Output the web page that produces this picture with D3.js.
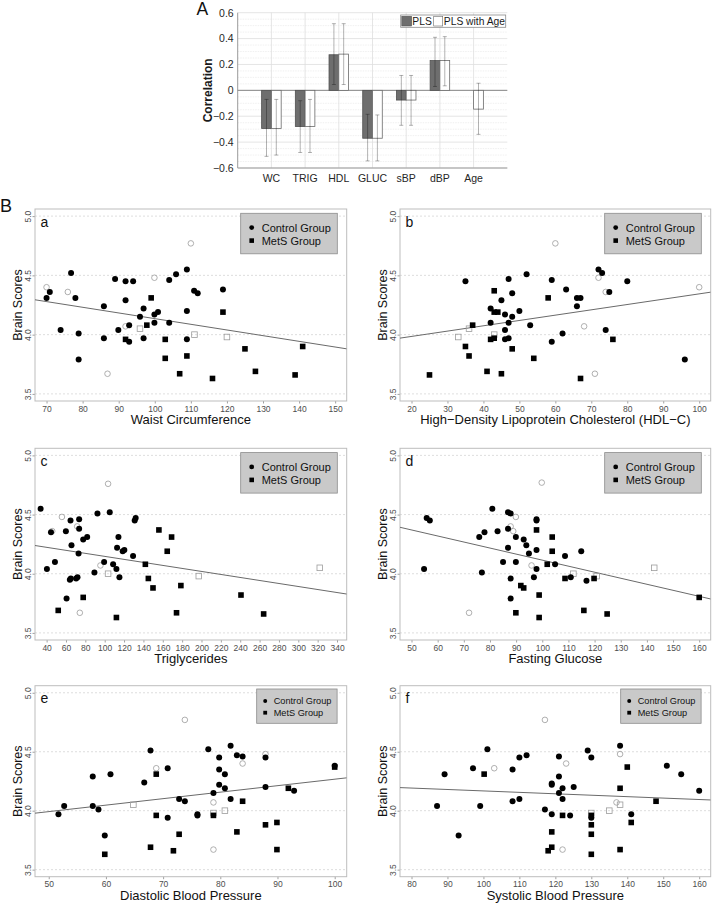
<!DOCTYPE html>
<html><head><meta charset="utf-8">
<script src="https://cdn.jsdelivr.net/npm/d3@7"></script>
<style>body{margin:0;background:#fff} svg{display:block;font-family:"Liberation Sans",Arial,Helvetica,sans-serif}</style>
</head><body><svg id="c" width="713" height="903"></svg>
<script>
// ---------- Part A data ----------
const categories = ["WC","TRIG","HDL","GLUC","sBP","dBP","Age"];
const plsValues = [-0.295,-0.28,0.275,-0.37,-0.075,0.23,null];
const plsLow    = [-0.51,-0.48,0.045,-0.545,-0.27,0.03,null];
const plsHigh   = [-0.07,-0.08,0.515,-0.185,0.115,0.41,null];
const ageValues = [-0.295,-0.28,0.28,-0.37,-0.075,0.23,-0.145];
const ageLow    = [-0.50,-0.48,0.045,-0.545,-0.27,0.035,-0.34];
const ageHigh   = [-0.07,-0.07,0.515,-0.19,0.115,0.415,0.055];
const corrTicks = [-0.6,-0.4,-0.2,0,0.2,0.4,0.6];
const legendA = ["PLS","PLS with Age"];

// ---------- Part B data ----------
const panelLabels = ["a","b","c","d","e","f"];
const xTitles = ["Waist Circumference","High\u2212Density Lipoprotein Cholesterol (HDL\u2212C)","Triglycerides","Fasting Glucose","Diastolic Blood Pressure","Systolic Blood Pressure"];
const xDomains = [[66.8,153.2],[16.8,103.2],[28,350],[45.6,164.4],[47.6,102.1],[76.8,163.2]];
const xTickSets = [d3.range(70,151,10), d3.range(20,101,10), d3.range(40,341,20), d3.range(50,161,10), d3.range(50,101,10), d3.range(80,161,10)];
const yDomain = [3.44,5.06];
const yTicks = [3.5,4.0,4.5,5.0];
const fitIntercepts = [4.614,3.895,4.274,4.625,3.717,4.289];
const fitSlopes = [-0.00479,0.00449,-0.001273,-0.0051,0.0055,-0.001215];
const groupNames = ["Control Group","MetS Group"];

const aControl = [[70,4.31],[70.9,4.36],[76.8,4.52],[78,4.31],[73.9,4.04],[78.9,4.01],[78.9,3.79],[85.9,4.24],[85.9,3.97],[89,4.47],[89.9,4.04],[91.9,4.45],[94,4.45],[91.9,4.29],[92.9,4.08],[92.9,3.94],[96.9,4.22],[95.9,4.15],[96.9,3.97],[99.9,4.17],[100.9,4.19],[99.9,4.10],[104,4.10],[104,4.46],[105.9,4.51],[108.9,4.55],[108.9,4.20],[108.9,3.96],[110.9,4.37],[111.9,4.35],[118.9,4.38]];
const aMetS = [[99,4.31],[97.8,4.08],[91.9,3.96],[102.9,3.96],[102.9,3.80],[108.9,3.82],[106.9,3.67],[116,3.63],[118.9,4.19],[125,3.88],[127.9,3.69],[138.9,3.66],[141,3.90]];
const aOpenControl = [[70,4.40],[75.9,4.36],[99.9,4.48],[110,4.77],[91.9,4.07],[86.9,3.67]];
const aOpenMetS = [[95.9,4.05],[111,4.00],[120,3.98]];

const bControl = [[35,4.45],[42,4.22],[42,4.10],[45,4.29],[46,4.17],[46,4.04],[46,3.96],[47,4.47],[47,4.10],[47,3.97],[48,4.35],[48,4.15],[50,4.20],[52,4.51],[53,4.08],[59,4.46],[59,3.94],[62,4.01],[63,4.38],[66,4.24],[66,4.31],[67,4.31],[72,4.55],[73,4.52],[75,4.36],[74,4.04],[80,4.45],[96,3.79]];
const bMetS = [[25,3.66],[35,3.90],[36,3.82],[37,4.08],[41,3.69],[43,4.37],[43,4.19],[44,4.19],[42,3.96],[43,3.97],[45,3.67],[48,3.88],[54,3.80],[58,4.31],[67,3.63],[76,3.96]];
const bOpenControl = [[60,4.77],[72,4.48],[74,4.36],[68,4.07],[71,3.67],[100,4.40]];
const bOpenMetS = [[33,3.98],[36,4.05],[43,4.00]];

const cControl = [[33.8,4.55],[44.5,4.35],[40.3,4.04],[48.6,4.10],[59.9,4.36],[60.6,3.79],[64.7,4.45],[65.7,4.24],[64,3.95],[65,3.96],[70.5,3.96],[71.9,3.97],[73.6,4.46],[73.6,4.38],[73,4.17],[77.8,4.29],[81.9,4.31],[89.4,4.01],[92.5,4.51],[99.4,4.10],[105.2,4.52],[108.7,4.08],[112.1,4.04],[112.8,4.22],[114.2,4.31],[115.2,3.97],[118.6,4.19],[120.3,4.20],[129.3,4.15],[131,4.45],[132,4.47]];
const cMetS = [[52,3.69],[77.8,3.80],[112.1,3.63],[142,4.08],[145.1,3.96],[149.9,3.88],[156,4.37],[164.6,4.19],[169.1,4.31],[174.2,3.67],[178.7,3.90],[240.8,3.82],[264.2,3.66]];
const cOpenControl = [[103.5,4.76],[55.8,4.48],[71.6,4.40],[45.8,4.36],[95.6,4.07],[74.3,3.67]];
const cOpenMetS = [[103.5,4.00],[197.2,3.98],[322.2,4.05]];

const dControl = [[54.8,4.04],[55.8,4.47],[57,4.45],[75.9,4.31],[77.9,4.35],[76.9,4.01],[80.9,4.55],[82.9,4.36],[85,4.10],[86.9,4.52],[87.9,4.51],[86.9,4.38],[86.9,4.22],[87.9,3.96],[87.9,3.79],[89.9,4.31],[89.9,4.10],[92.9,4.29],[93.9,4.24],[94.9,4.17],[96.8,3.97],[97.8,4.46],[97.8,4.45],[97.8,4.20],[97.8,4.04],[104.9,4.08],[108.7,4.15],[110.9,3.97],[114.9,4.19],[116.9,3.94]];
const dMetS = [[89.9,3.67],[91.8,3.90],[92.9,3.88],[98.8,3.82],[98.8,3.63],[97.8,4.37],[103.8,4.31],[103.8,4.19],[101.9,4.08],[108.7,3.96],[115.9,3.69],[119.8,3.96],[124.8,3.66],[160,3.80]];
const dOpenControl = [[99.8,4.77],[89.9,4.48],[87.9,4.40],[88.9,4.36],[95.9,4.07],[72,3.67]];
const dOpenMetS = [[111.9,4.00],[120.8,3.98],[142.8,4.05]];

const eControl = [[51.7,3.97],[52.7,4.04],[57.7,4.29],[57.7,4.04],[58.7,4.01],[59.8,3.79],[60.8,4.31],[66.7,4.24],[67.8,4.51],[70.8,4.36],[70.8,3.94],[72.8,4.10],[73.8,4.08],[76,3.97],[76,3.96],[77.9,4.52],[78.8,4.15],[79.8,4.45],[79.8,4.35],[79.8,4.22],[80.8,4.31],[80.8,4.19],[81.8,4.55],[81.8,4.10],[82.9,4.47],[83.9,4.46],[87.9,4.45],[87.9,4.20],[92.9,4.17],[100,4.38]];
const eMetS = [[59.8,3.63],[67.8,3.69],[68.8,4.31],[68.8,3.96],[71.8,3.66],[72.8,3.80],[78.8,3.96],[82.9,3.82],[83.9,4.08],[87.9,3.88],[89.9,3.90],[89.9,3.67],[91.9,4.19],[100,4.37]];
const eOpenControl = [[73.8,4.77],[68.8,4.36],[83.9,4.40],[87.9,4.48],[78.8,4.07],[78.8,3.67]];
const eOpenMetS = [[64.8,4.05],[78.8,3.98],[80.8,4.00]];

const fControl = [[87.1,4.04],[89.2,4.31],[93.1,3.79],[97.1,4.36],[99.1,4.04],[101.1,4.52],[108.1,4.35],[108.1,4.08],[110,4.45],[110,4.10],[112,4.47],[117.1,4.01],[119,4.23],[119,4.22],[119,3.97],[121,4.46],[121,4.29],[121,4.15],[122,4.19],[122,4.10],[124.1,3.96],[125.1,4.20],[129,4.51],[130,4.45],[130,3.94],[138,4.55],[141.1,3.97],[151,4.38],[155,4.31],[160,4.17]];
const fMetS = [[100.2,4.31],[118,3.66],[119,3.69],[119,3.82],[122,3.96],[130,3.96],[130,3.88],[130,3.80],[130,3.63],[138,4.19],[138,3.67],[140,4.37],[141.1,3.90],[148,4.08]];
const fOpenControl = [[117.1,4.77],[103,4.36],[123,4.40],[138,4.48],[137,4.07],[122,3.67]];
const fOpenMetS = [[130,3.98],[135,4.00],[138,4.05]];

const controls = [aControl,bControl,cControl,dControl,eControl,fControl];
const metss = [aMetS,bMetS,cMetS,dMetS,eMetS,fMetS];
const openControls = [aOpenControl,bOpenControl,cOpenControl,dOpenControl,eOpenControl,fOpenControl];
const openMetss = [aOpenMetS,bOpenMetS,cOpenMetS,dOpenMetS,eOpenMetS,fOpenMetS];

// ---------- drawing ----------
const svg = d3.select("#c");

// Part A
const A = {left:237.7, right:507.3, top:12.7, bottom:168};
const xA = d3.scaleLinear().domain([0,8]).range([A.left, A.right]);
const yA = d3.scaleLinear().domain([-0.6,0.6]).range([A.bottom, A.top]);
const gA = svg.append("g");
const minorT = d3.range(-60,61,5).map(v=>v/100).filter(v=>Math.abs(Math.round(v*100))%20!==0);
gA.selectAll(".mn").data(minorT).join("line")
  .attr("x1",A.left).attr("x2",A.right).attr("y1",d=>yA(d)).attr("y2",d=>yA(d))
  .attr("stroke","#ececec").attr("stroke-width",0.8).attr("stroke-dasharray","1.5,1");
gA.selectAll(".mj").data(corrTicks).join("line")
  .attr("x1",A.left).attr("x2",A.right).attr("y1",d=>yA(d)).attr("y2",d=>yA(d))
  .attr("stroke","#dedede").attr("stroke-width",0.8);
gA.selectAll(".vg").data(categories).join("line")
  .attr("x1",(d,i)=>xA(i+1)).attr("x2",(d,i)=>xA(i+1)).attr("y1",A.top).attr("y2",A.bottom)
  .attr("stroke","#dedede").attr("stroke-width",0.8);
// axes
gA.append("line").attr("x1",A.left).attr("x2",A.left).attr("y1",A.top).attr("y2",A.bottom).attr("stroke","#9a9a9a");
gA.append("line").attr("x1",A.left).attr("x2",A.right).attr("y1",A.bottom).attr("y2",A.bottom).attr("stroke","#9a9a9a");
gA.append("line").attr("x1",A.left).attr("x2",A.right).attr("y1",yA(0)).attr("y2",yA(0)).attr("stroke","#8a8a8a");
const bw = 0.29;
categories.forEach((c,i)=>{
  const cx = i+1;
  if (plsValues[i]!==null){
    gA.append("rect").attr("x",xA(cx-bw)).attr("width",xA(cx)-xA(cx-bw))
      .attr("y",yA(Math.max(0,plsValues[i]))).attr("height",Math.abs(yA(plsValues[i])-yA(0)))
      .attr("fill","#6e6e6e").attr("stroke","#505050").attr("stroke-width",0.8);
  }
  gA.append("rect").attr("x",xA(cx)).attr("width",xA(cx+bw)-xA(cx))
    .attr("y",yA(Math.max(0,ageValues[i]))).attr("height",Math.abs(yA(ageValues[i])-yA(0)))
    .attr("fill","#fff").attr("stroke","#6a6a6a").attr("stroke-width",0.8);
});
function errBar(xc, lo, hi){
  const g = gA.append("g").attr("stroke","rgba(0,0,0,0.3)").attr("stroke-width",1);
  g.append("line").attr("x1",xc).attr("x2",xc).attr("y1",yA(lo)).attr("y2",yA(hi));
  g.append("line").attr("x1",xc-2).attr("x2",xc+2).attr("y1",yA(lo)).attr("y2",yA(lo));
  g.append("line").attr("x1",xc-2).attr("x2",xc+2).attr("y1",yA(hi)).attr("y2",yA(hi));
}
categories.forEach((c,i)=>{
  const cx=i+1;
  if (plsValues[i]!==null) errBar(xA(cx-bw/2), plsLow[i], plsHigh[i]);
  errBar(xA(cx+bw/2), ageLow[i], ageHigh[i]);
});
gA.selectAll(".yt").data(corrTicks).join("text")
  .attr("x",A.left-4).attr("y",d=>yA(d)+3.8).attr("text-anchor","end")
  .attr("font-size",10.5).attr("fill","#262626").text(d=>d===0?"0":d3.format(".1f")(d));
gA.selectAll(".xt").data(categories).join("text")
  .attr("x",(d,i)=>xA(i+1)).attr("y",A.bottom+14).attr("text-anchor","middle")
  .attr("font-size",10.5).attr("fill","#262626").text(d=>d);
gA.append("text").attr("transform",`translate(${A.left-25.5},${yA(0)}) rotate(-90)`)
  .attr("text-anchor","middle").attr("font-size",12).attr("font-weight","bold").attr("fill","#1a1a1a").text("Correlation");
gA.append("text").attr("x",196.5).attr("y",15).attr("font-size",17.5).attr("fill","#111").text("A");
// legend A
const lgA = gA.append("g");
lgA.append("rect").attr("x",400.7).attr("y",15).attr("width",105).attr("height",12.3).attr("fill","#fff").attr("stroke","#8a8a8a").attr("stroke-width",0.8);
lgA.append("rect").attr("x",401.8).attr("y",16.3).attr("width",9.8).attr("height",9.7).attr("fill","#6e6e6e").attr("stroke","#505050").attr("stroke-width",0.6);
lgA.append("text").attr("x",412.3).attr("y",25).attr("font-size",10.3).attr("fill","#1a1a1a").text(legendA[0]);
lgA.append("rect").attr("x",433.7).attr("y",16.3).attr("width",9).attr("height",9.7).attr("fill","#fff").attr("stroke","#6a6a6a").attr("stroke-width",0.6);
lgA.append("text").attr("x",443.8).attr("y",25).attr("font-size",10.3).attr("fill","#1a1a1a").text(legendA[1]);

// Part B
svg.append("text").attr("x",0).attr("y",212).attr("font-size",18).attr("fill","#111").text("B");
const colX = [[35,346.7],[400,710.7]];
const rowY = [[209,401],[448.3,640],[685.7,876.7]];
panelLabels.forEach((lab,i)=>{
  const col = i%2, row = Math.floor(i/2);
  const L = colX[col][0], R = colX[col][1], T = rowY[row][0], B = rowY[row][1];
  const x = d3.scaleLinear().domain(xDomains[i]).range([L,R]);
  const y = d3.scaleLinear().domain(yDomain).range([B,T]);
  const g = svg.append("g");
  const cid = "clip"+i;
  g.append("clipPath").attr("id",cid).append("rect").attr("x",L).attr("y",T).attr("width",R-L).attr("height",B-T);
  // grid
  g.selectAll(".gr").data(yTicks).join("line")
    .attr("x1",L).attr("x2",R).attr("y1",d=>y(d)).attr("y2",d=>y(d))
    .attr("stroke","#d6d6d6").attr("stroke-width",0.8).attr("stroke-dasharray","2,2");
  // axes via d3
  const xAxis = d3.axisBottom(x).tickValues(xTickSets[i]).tickSize(2.5).tickSizeOuter(0).tickPadding(2);
  const gx = g.append("g").attr("transform",`translate(0,${B})`).call(xAxis);
  gx.select(".domain").remove();
  gx.selectAll("line").attr("stroke","#a0a0a0");
  gx.selectAll("text").attr("font-size",8.5).attr("fill","#4d4d4d").attr("font-family","Liberation Sans, Arial, sans-serif");
  const yAxis = d3.axisLeft(y).tickValues(yTicks).tickSize(2.5).tickSizeOuter(0).tickFormat(d3.format(".1f"));
  const gy = g.append("g").attr("transform",`translate(${L},0)`).call(yAxis);
  gy.select(".domain").remove();
  gy.selectAll("line").attr("stroke","#a0a0a0");
  gy.selectAll("text").attr("font-size",8.5).attr("fill","#4d4d4d").attr("font-family","Liberation Sans, Arial, sans-serif")
    .attr("x",null).attr("dy",null).attr("text-anchor","middle")
    .attr("transform","translate(-4.3,0) rotate(-90)");
  // box
  g.append("rect").attr("x",L).attr("y",T).attr("width",R-L).attr("height",B-T)
    .attr("fill","none").attr("stroke","#bdbdbd").attr("stroke-width",1);
  // regression line
  const pg = g.append("g").attr("clip-path",`url(#${cid})`);
  const xd = xDomains[i];
  pg.append("line").attr("x1",x(xd[0])).attr("x2",x(xd[1]))
    .attr("y1",y(fitIntercepts[i]+fitSlopes[i]*xd[0])).attr("y2",y(fitIntercepts[i]+fitSlopes[i]*xd[1]))
    .attr("stroke","#6a6a6a").attr("stroke-width",1);
  // points
  pg.selectAll(".oc").data(openControls[i]).join("circle")
    .attr("cx",d=>x(d[0])).attr("cy",d=>y(d[1])).attr("r",2.8)
    .attr("fill","none").attr("stroke","#9c9c9c").attr("stroke-width",0.8);
  pg.selectAll(".os").data(openMetss[i]).join("rect")
    .attr("x",d=>x(d[0])-2.8).attr("y",d=>y(d[1])-2.8).attr("width",5.6).attr("height",5.6)
    .attr("fill","none").attr("stroke","#9c9c9c").attr("stroke-width",0.8);
  pg.selectAll(".fc").data(controls[i]).join("circle")
    .attr("cx",d=>x(d[0])).attr("cy",d=>y(d[1])).attr("r",3).attr("fill","#000");
  pg.selectAll(".fs").data(metss[i]).join("rect")
    .attr("x",d=>x(d[0])-2.8).attr("y",d=>y(d[1])-2.8).attr("width",5.6).attr("height",5.6).attr("fill","#000");
  // labels
  g.append("text").attr("x",L+5.5).attr("y",T+17.5).attr("font-size",14).attr("fill","#111").text(lab);
  g.append("text").attr("x",(L+R)/2).attr("y",B+23).attr("text-anchor","middle")
    .attr("font-size",13).attr("fill","#111").text(xTitles[i]);
  g.append("text").attr("transform",`translate(${L-13.5},${(T+B)/2}) rotate(-90)`)
    .attr("text-anchor","middle").attr("font-size",12.5).attr("fill","#111").text("Brain Scores");
  // legend
  const small = row===2;
  const lw = small?80.4:96.6, lh = small?34.3:40.5;
  const lx = R - (small?9.6:9.4) - lw, ly = T + (small?3.3:4.3);
  const fs = small?9.2:11;
  const lg = g.append("g");
  lg.append("rect").attr("x",lx).attr("y",ly).attr("width",lw).attr("height",lh)
    .attr("fill","#c9c9c9").attr("stroke","#8c8c8c").attr("stroke-width",0.8);
  const r1 = ly + (small?12:14.3), r2 = ly + (small?23.7:27.3);
  const mx = lx + (small?8.5:11), tx = lx + (small?17:21);
  lg.append("circle").attr("cx",mx).attr("cy",r1).attr("r",small?2:2.4).attr("fill","#000");
  const sq = small?3.8:4.6;
  lg.append("rect").attr("x",mx-sq/2).attr("y",r2-sq/2).attr("width",sq).attr("height",sq).attr("fill","#000");
  lg.append("text").attr("x",tx).attr("y",r1+fs*0.36).attr("font-size",fs).attr("fill","#111").text(groupNames[0]);
  lg.append("text").attr("x",tx).attr("y",r2+fs*0.36).attr("font-size",fs).attr("fill","#111").text(groupNames[1]);
});
</script></body></html>
